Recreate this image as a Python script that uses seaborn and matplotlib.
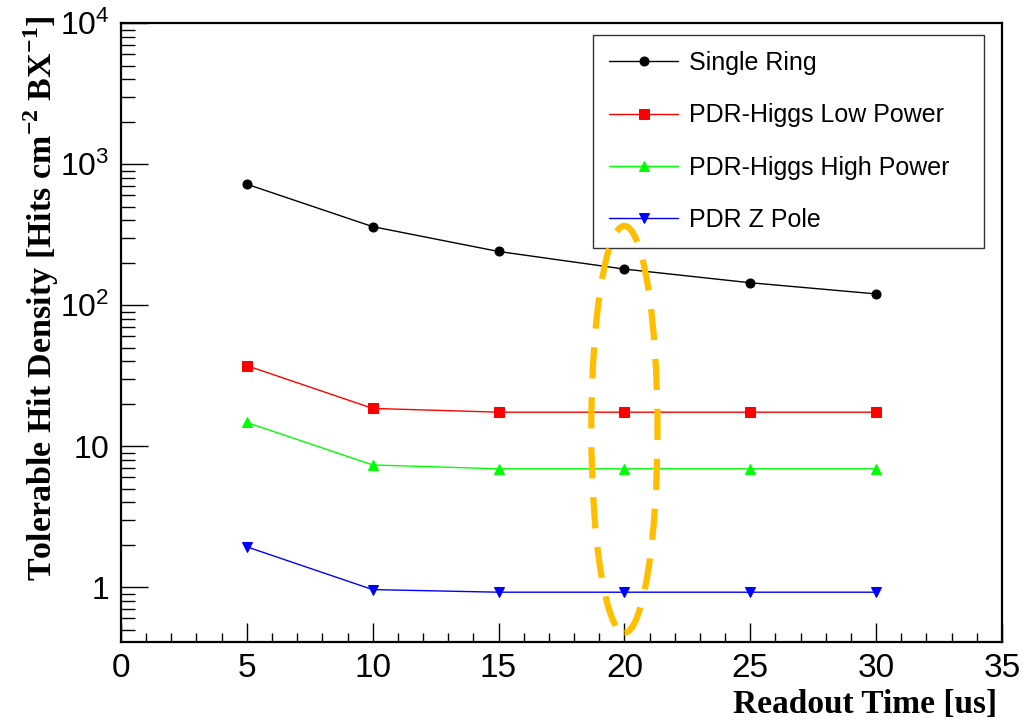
import numpy as np
import pandas as pd
import matplotlib
matplotlib.use("Agg")
import matplotlib.pyplot as plt
import matplotlib.transforms as mtransforms
from matplotlib.patches import Ellipse
from matplotlib.ticker import FixedLocator, FixedFormatter, MultipleLocator, LogLocator, NullFormatter
import seaborn as sns

# ---- data ----
readout_time = [5, 10, 15, 20, 25, 30]
single_ring = [720, 360, 240, 180, 144, 120]
pdr_higgs_low = [37.2, 18.5, 17.4, 17.4, 17.4, 17.4]
pdr_higgs_high = [14.7, 7.35, 6.9, 6.9, 6.9, 6.9]
pdr_z_pole = [1.93, 0.96, 0.92, 0.92, 0.92, 0.92]

series_names = ["Single Ring", "PDR-Higgs Low Power", "PDR-Higgs High Power", "PDR Z Pole"]
series_values = [single_ring, pdr_higgs_low, pdr_higgs_high, pdr_z_pole]
series_colors = ["#000000", "#ff0000", "#00ff00", "#0000ff"]
series_markers = ["o", "s", "^", "v"]
series_msize = [6.5, 7.5, 7.5, 7.5]

x_ticks = [0, 5, 10, 15, 20, 25, 30, 35]
y_ticks = [1, 10, 100, 1000, 10000]
y_tick_labels = [r"$\mathsf{1}$", r"$\mathsf{10}$", r"$\mathsf{10^{2}}$", r"$\mathsf{10^{3}}$", r"$\mathsf{10^{4}}$"]

# ---- style ----
sns.set_style("white")
plt.rcParams["font.family"] = ["Liberation Sans", "DejaVu Sans"]
plt.rcParams["mathtext.fontset"] = "custom"
plt.rcParams["mathtext.rm"] = "Liberation Serif:bold"
plt.rcParams["mathtext.bf"] = "Liberation Serif:bold"
plt.rcParams["mathtext.sf"] = "Liberation Sans"
plt.rcParams["text.color"] = "black"
plt.rcParams["axes.labelcolor"] = "black"
plt.rcParams["xtick.color"] = "black"
plt.rcParams["ytick.color"] = "black"

fig = plt.figure(figsize=(10.34, 7.21), dpi=100)
ax = fig.add_axes([0.117, 0.110, 0.852, 0.858])

df = pd.DataFrame({
    "t": np.tile(readout_time, len(series_names)),
    "v": np.concatenate(series_values),
    "s": np.repeat(series_names, len(readout_time)),
})

for name, col, mk, ms in zip(series_names, series_colors, series_markers, series_msize):
    sub = df[df["s"] == name]
    sns.lineplot(data=sub, x="t", y="v", color=col, marker=mk, markersize=ms,
                 markeredgecolor=col, linewidth=1.0, label=name, ax=ax, zorder=3)

ax.set_yscale("log")
ax.set_xlim(0, 35)
ax.set_ylim(0.41, 1e4)

ax.xaxis.set_major_locator(FixedLocator(x_ticks))
ax.xaxis.set_minor_locator(MultipleLocator(1))
ax.yaxis.set_major_locator(FixedLocator(y_ticks))
ax.yaxis.set_major_formatter(FixedFormatter(y_tick_labels))
ax.yaxis.set_minor_locator(LogLocator(base=10, subs=np.arange(2, 10)))
ax.yaxis.set_minor_formatter(NullFormatter())

ax.tick_params(axis="x", which="major", direction="in", length=13.5, width=1.0,
               labelsize=24, pad=8, bottom=True, top=False, labelcolor="black")
ax.tick_params(axis="x", which="minor", direction="in", length=6.5, width=1.0,
               bottom=True, top=False)
ax.tick_params(axis="y", which="major", direction="in", length=19.5, width=1.0,
               labelsize=23, pad=8.5, left=True, right=False, labelcolor="black")
ax.tick_params(axis="y", which="minor", direction="in", length=10, width=1.0,
               left=True, right=False)
for sp in ax.spines.values():
    sp.set_linewidth(1.6)
    sp.set_color("black")

ax.set_xlabel("Readout Time [us]", family="Liberation Serif", fontweight="bold",
              fontsize=24, loc="right", color="black")
ax.xaxis.set_label_coords(0.994, -0.077)
ax.set_ylabel(r"Tolerable Hit Density [Hits cm$^{-2}$ BX$^{-1}$]", family="Liberation Serif",
              fontweight="bold", fontsize=24.5, loc="top", color="black")
ax.yaxis.set_label_coords(-0.068, 1.012)

leg = ax.legend(loc="upper left", bbox_to_anchor=(0.536, 0.645, 0.444, 0.336),
                mode="expand", fontsize=18, frameon=True, fancybox=False, shadow=False,
                handlelength=2.75, handletextpad=0.45, borderpad=0.65, labelspacing=1.13,
                borderaxespad=0, edgecolor="black")
leg.get_frame().set_linewidth(1.0)
leg.set_zorder(5)

# orange dashed ellipse highlighting readout time 20 us
trans = mtransforms.blended_transform_factory(ax.transData, ax.transAxes)
ell = Ellipse((20, 0.3433), width=2.63, height=0.6575, transform=trans, fill=False,
              edgecolor="#ffbf00", linewidth=4.5, linestyle=(0, (5, 3)), zorder=10, clip_on=False)
ax.add_patch(ell)

fig.savefig("out.png", dpi=100)
